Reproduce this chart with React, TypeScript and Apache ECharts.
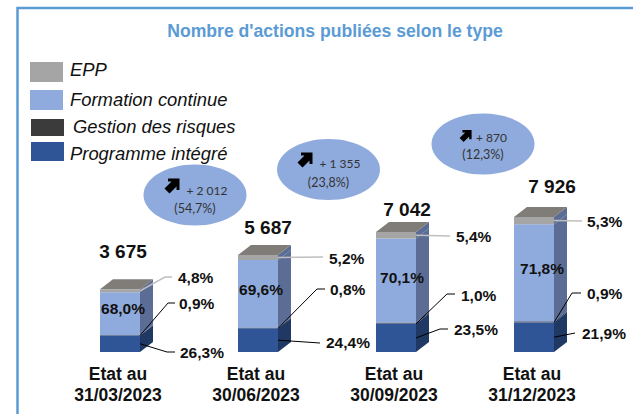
import React, { useEffect, useRef } from "react";
import * as echarts from "echarts";

const categories = ["Etat au\n31/03/2023", "Etat au\n30/06/2023", "Etat au\n30/09/2023", "Etat au\n31/12/2023"];
const totals = [3675, 5687, 7042, 7926];
const totalLabels = ["3 675", "5 687", "7 042", "7 926"];
const sharePrograme = [26.3, 24.4, 23.5, 21.9];
const shareGestion = [0.9, 0.8, 1.0, 0.9];
const shareFormation = [68.0, 69.6, 70.1, 71.8];
const shareEpp = [4.8, 5.2, 5.4, 5.3];
const growthValues = ["+ 2 012", "+ 1 355", "+ 870"];
const growthRates = ["(54,7%)", "(23,8%)", "(12,3%)"];
const legendNames = ["EPP", "Formation continue", "Gestion des risques", "Programme intégré"];
const titleText = "Nombre d'actions publiées selon le type";

const FRONT = ["#2F5597", "#4A5770", "#8FAADC", "#A5A5A5"];
const SIDE = ["#1F3864", "#2E3B57", "#5B6D94", "#5B6D94"];
const TOP_FACE = "#807C78";
const DEPTH_X = 13;
const DEPTH_Y = 10;
const HALF = 20;

const seriesNames = ["Programme intégré", "Gestion des risques", "Formation continue", "EPP"];
const shares = [sharePrograme, shareGestion, shareFormation, shareEpp];
const pct = (v: number) => v.toFixed(1).replace(".", ",") + "%";
const countOf = (s: number, c: number) => (totals[c] * shares[s][c]) / 100;
const baseOf = (s: number, c: number) => {
  let b = 0;
  for (let i = 0; i < s; i++) b += countOf(i, c);
  return b;
};

// Leader layout: offsets from each bar's centre on the baseline [elbow points..., label start]
const leaderLayout: Record<number, { pts: number[][]; label: number[]; color: string }[]> = {
  3: [
    { pts: [[45, -75], [52, -75]], label: [58, -75], color: "#BFBFBF" },
    { pts: [[65, -95]], label: [71, -94], color: "#BFBFBF" },
    { pts: [[54, -116]], label: [60, -116], color: "#BFBFBF" },
    { pts: [[48, -131]], label: [53, -131], color: "#BFBFBF" },
  ],
  1: [
    { pts: [[48, -49], [55, -49]], label: [59, -49], color: "#000" },
    { pts: [[59, -63], [67, -63]], label: [72, -63], color: "#000" },
    { pts: [[51, -58], [59, -58]], label: [65, -57], color: "#000" },
    { pts: [[38, -59], [47, -59]], label: [53, -59], color: "#000" },
  ],
  0: [
    { pts: [[47, 0], [55, 0]], label: [60, 0], color: "#000" },
    { pts: [[62, -9]], label: [68, -10], color: "#000" },
    { pts: [[44, -23], [52, -23]], label: [58, -23], color: "#000" },
    { pts: [[41, -19]], label: [48, -19], color: "#000" },
  ],
};
const innerLabelOffset = [[3, -44], [3, -63], [6, -75], [8, -84]];
const totalLabelOffset = [[3, -38], [10, -28], [11, -22], [18, -30]];

const ARROW = "M-0.5 7.5 L6.5 0.5 L3 0.5 L3 -2.5 L14.5 -2.5 L14.5 9 L11.5 9 L11.5 5.5 L4.5 12.5 Z";
const FONT = "'Liberation Sans', Arial, sans-serif";
const BUBBLE_FONT = "Lato, 'Open Sans', sans-serif";

echarts.graphic.registerShape("upArrow", echarts.graphic.extendPath(ARROW as any, {}) as any);

const bubbles = [
  { cx: 195, cy: 195, ax: 165, ay: 181, s: 1, tx: 207, ty: 190, dy: 18 },
  { cx: 328.5, cy: 169.5, ax: 298, ay: 155, s: 1, tx: 340, ty: 163, dy: 19 },
  { cx: 483, cy: 144, ax: 460, ay: 132, s: 0.8, tx: 491.5, ty: 137, dy: 17 },
];
const legendRows = [
  { x: 30, y: 62, w: 33, h: 20, tx: 70, ty: 69, c: "#A5A5A5" },
  { x: 30, y: 90, w: 33, h: 20, tx: 70, ty: 99, c: "#8FAADC" },
  { x: 31, y: 119, w: 33, h: 17, tx: 73, ty: 126, c: "#3B3B3B" },
  { x: 31, y: 142, w: 33, h: 19, tx: 70, ty: 153, c: "#2F5597" },
];

export default function App() {
  const ref = useRef<HTMLDivElement>(null);
  useEffect(() => {
    const chart = echarts.init(ref.current!, null, { renderer: "svg" });

    const barSeries = seriesNames.map((name, s) => ({
      type: "bar",
      name,
      stack: "total",
      barWidth: 40,
      silent: true,
      z: 3,
      itemStyle: { color: FRONT[s] },
      data: categories.map((_, c) => countOf(s, c)),
    }));

    const sideSeries = {
      type: "custom",
      silent: true,
      z: 2,
      clip: false,
      data: categories.map((_, c) => [c, totals[c]]),
      renderItem: (_p: any, api: any) => {
        const c = api.value(0);
        const children: any[] = [];
        shares.forEach((_sh, s) => {
          const lo = api.coord([c, baseOf(s, c)]);
          const hi = api.coord([c, baseOf(s, c) + countOf(s, c)]);
          const x = lo[0] + HALF;
          children.push({
            type: "polygon",
            shape: { points: [[x, lo[1]], [x + DEPTH_X, lo[1] - DEPTH_Y], [x + DEPTH_X, hi[1] - DEPTH_Y], [x, hi[1]]] },
            style: { fill: SIDE[s] },
          });
        });
        const top = api.coord([c, baseOf(3, c) + countOf(3, c)]);
        children.push({
          type: "polygon",
          shape: {
            points: [
              [top[0] - HALF, top[1]],
              [top[0] + HALF, top[1]],
              [top[0] + HALF + DEPTH_X, top[1] - DEPTH_Y],
              [top[0] - HALF + DEPTH_X, top[1] - DEPTH_Y],
            ],
          },
          style: { fill: TOP_FACE },
        });
        return { type: "group", children };
      },
    };

    const labelSeries = {
      type: "custom",
      silent: true,
      z: 5,
      clip: false,
      data: categories.map((_, c) => [c, totals[c]]),
      renderItem: (_p: any, api: any) => {
        const c = api.value(0);
        const base = api.coord([c, 0]);
        const children: any[] = [];
        [3, 1, 0].forEach((s) => {
          const l = leaderLayout[s][c];
          const mid = s === 1 ? baseOf(1, c) : baseOf(s, c) + countOf(s, c) / 2;
          const start = api.coord([c, mid]);
          const pts = [[start[0] + HALF, start[1]], ...l.pts.map((p) => [base[0] + p[0], base[1] + p[1]])];
          children.push({
            type: "polyline",
            shape: { points: pts },
            style: { stroke: l.color, lineWidth: s === 3 ? 1.5 : 1, fill: "none" },
          });
          children.push({
            type: "text",
            x: base[0] + l.label[0],
            y: base[1] + l.label[1],
            style: {
              text: pct(shares[s][c]),
              font: `bold 15.5px ${FONT}`,
              fill: "#111",
              textAlign: "left",
              textVerticalAlign: "middle",
            },
          });
        });
        const inner = innerLabelOffset[c];
        children.push({
          type: "text",
          x: base[0] + inner[0],
          y: base[1] + inner[1],
          style: {
            text: pct(shareFormation[c]),
            font: `bold 15.5px ${FONT}`,
            fill: "#111",
            textAlign: "center",
            textVerticalAlign: "middle",
          },
        });
        const top = api.coord([c, totals[c]]);
        const off = totalLabelOffset[c];
        children.push({
          type: "text",
          x: top[0] + off[0],
          y: top[1] + off[1],
          style: {
            text: totalLabels[c],
            font: `bold 19px ${FONT}`,
            fill: "#111",
            textAlign: "center",
            textVerticalAlign: "middle",
          },
        });
        return { type: "group", children };
      },
    };

    const graphics: any[] = [
      { type: "rect", shape: { x: 17.5, y: 8, width: 640, height: 420 }, style: { fill: "none", stroke: "#5B9BD5", lineWidth: 2.5 }, silent: true },
      {
        type: "text",
        x: 335,
        y: 31,
        style: { text: titleText, font: `bold 17.6px ${FONT}`, fill: "#5B9BD5", textAlign: "center", textVerticalAlign: "middle" },
      },
    ];
    legendRows.forEach((r, i) => {
      graphics.push({ type: "rect", shape: { x: r.x, y: r.y, width: r.w, height: r.h }, style: { fill: r.c } });
      graphics.push({
        type: "text",
        x: r.tx,
        y: r.ty,
        style: { text: legendNames[i], font: `italic 18.4px ${FONT}`, fill: "#111", textAlign: "left", textVerticalAlign: "middle" },
      });
    });
    bubbles.forEach((b, i) => {
      graphics.push({ type: "ellipse", shape: { cx: b.cx, cy: b.cy, rx: 51.5, ry: 30.5 }, style: { fill: "#8FAADC" } });
      graphics.push({ type: "upArrow", x: b.ax, y: b.ay, scaleX: b.s, scaleY: b.s, style: { fill: "#000" } });
      graphics.push({
        type: "text",
        x: b.tx,
        y: b.ty,
        style: { text: growthValues[i], font: `12px ${BUBBLE_FONT}`, fill: "#333", textAlign: "center", textVerticalAlign: "middle" },
      });
      graphics.push({
        type: "text",
        x: b.cx,
        y: b.ty + b.dy,
        style: { text: growthRates[i], font: `12.5px ${BUBBLE_FONT}`, fill: "#333", textAlign: "center", textVerticalAlign: "middle" },
      });
    });

    chart.setOption({
      animation: false,
      backgroundColor: "#fff",
      grid: { left: 51, right: 30, top: 181.5, bottom: 62 },
      xAxis: {
        type: "category",
        data: categories,
        axisLine: { show: false },
        axisTick: { show: false },
        axisLabel: {
          color: "#111",
          fontFamily: FONT,
          fontWeight: "bold",
          fontSize: 17.5,
          lineHeight: 21,
          margin: 11,
          padding: [0, 4, 0, 0],
          interval: 0,
        },
      },
      yAxis: { type: "value", min: 0, max: 10000, show: false, splitLine: { show: false } },
      graphic: graphics,
      series: [sideSeries, ...barSeries, labelSeries],
    });
    return () => chart.dispose();
  }, []);
  return <div ref={ref} style={{ position: "fixed", left: 0, top: 0, width: 633, height: 414 }} />;
}
